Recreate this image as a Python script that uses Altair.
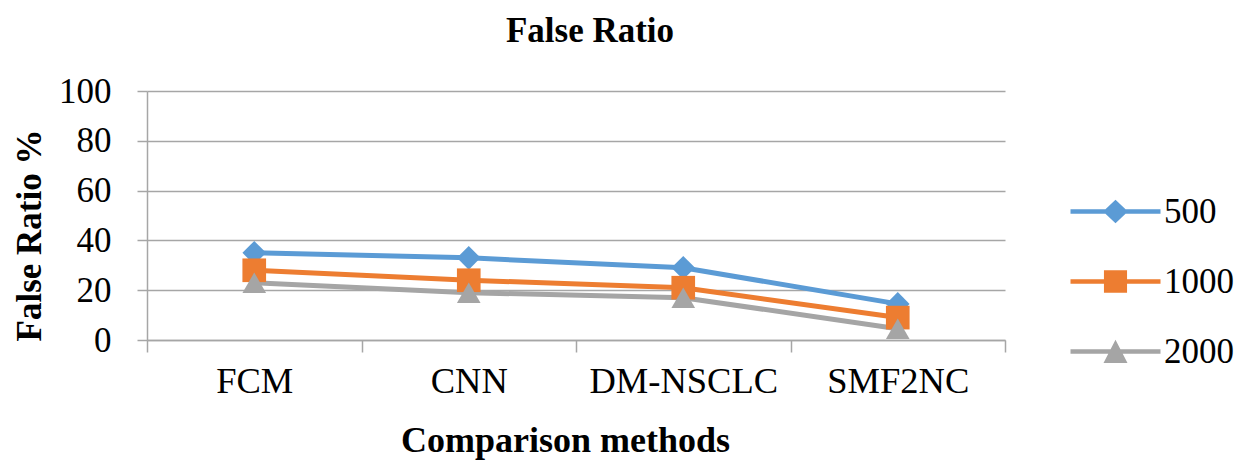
import altair as alt
import pandas as pd

methods = ["FCM", "CNN", "DM-NSCLC", "SMF2NC"]
series_names = ["500", "1000", "2000"]
vals_500 = [35, 33, 29, 14.5]
vals_1000 = [28, 24, 21, 9]
vals_2000 = [23, 19, 17, 4.5]
colors = ["#5B9BD5", "#ED7D31", "#A5A5A5"]
marker_shapes = ["diamond", "square", "triangle-up"]
y_ticks = [0, 20, 40, 60, 80, 100]

legend_paths = [
    "M-3,-0.15L3,-0.15L3,0.15L-3,0.15Z M-0.83,0L0,-0.78L0.83,0L0,0.78Z",
    "M-3,-0.15L3,-0.15L3,0.15L-3,0.15Z M-0.77,-0.75L0.77,-0.75L0.77,0.75L-0.77,0.75Z",
    "M-3,-0.15L3,-0.15L3,0.15L-3,0.15Z M0,-0.78L0.8,0.76L-0.8,0.76Z",
]

rows = []
for s, vals in zip(series_names, [vals_500, vals_1000, vals_2000]):
    for m, v in zip(methods, vals):
        rows.append({"method": m, "series": s, "value": v})
df = pd.DataFrame(rows)

FONT = "Liberation Serif"
GRID = "#A6A6A6"

x_enc = alt.X(
    "method:N",
    sort=methods,
    scale=alt.Scale(type="band", paddingInner=0, paddingOuter=0),
    axis=alt.Axis(
        title="Comparison methods",
        tickBand="extent",
        labelAngle=0,
        labelLimit=400,
        grid=False,
        domainColor=GRID,
        domainWidth=1.5,
        tickColor=GRID,
        tickWidth=1.5,
        tickSize=12,
        labelFont=FONT,
        labelFontSize=36.5,
        labelColor="black",
        labelPadding=11,
        titleFont=FONT,
        titleFontSize=36,
        titleFontWeight="bold",
        titleColor="black",
        titleX=418,
        titleY=100,
        titleBaseline="middle",
        titleAlign="center",
    ),
)

y_enc = alt.Y(
    "value:Q",
    scale=alt.Scale(domain=[0, 100]),
    axis=alt.Axis(
        values=y_ticks,
        title="False Ratio %",
        grid=True,
        gridColor=GRID,
        gridWidth=1.5,
        domainColor=GRID,
        domainWidth=1.5,
        tickColor=GRID,
        tickWidth=1.5,
        tickSize=10,
        labelFont=FONT,
        labelFontSize=35,
        labelColor="black",
        labelPadding=26,
        titleFont=FONT,
        titleFontSize=35,
        titleFontWeight="bold",
        titleColor="black",
        titleX=-118,
        titleY=144,
        titleBaseline="middle",
        titleAlign="center",
        titleAngle=270,
    ),
)

layers = []
for s, c in zip(series_names, colors):
    layers.append(
        alt.Chart(df)
        .transform_filter(alt.datum.series == s)
        .mark_line(strokeWidth=5, color=c)
        .encode(x=x_enc, y=y_enc)
    )
for s, c, shp in zip(series_names, colors, marker_shapes):
    layers.append(
        alt.Chart(df)
        .transform_filter(alt.datum.series == s)
        .mark_point(shape=shp, filled=True, size=560, opacity=1, strokeWidth=0, color=c)
        .encode(x=x_enc, y=y_enc)
    )

leg = alt.Legend(
    title=None,
    orient="none",
    legendX=951,
    legendY=103,
    symbolSize=900,
    symbolOpacity=1,
    symbolStrokeWidth=0,
    labelFont=FONT,
    labelFontSize=35,
    labelColor="black",
    labelOffset=31,
    labelBaseline="middle",
    rowPadding=34,
    padding=0,
)

legend_layer = (
    alt.Chart(df)
    .transform_filter("datum.value < 0")
    .mark_point(filled=True, size=900)
    .encode(
        x=x_enc,
        y=y_enc,
        color=alt.Color("series:N", scale=alt.Scale(domain=series_names, range=colors), legend=leg),
        shape=alt.Shape("series:N", scale=alt.Scale(domain=series_names, range=legend_paths), legend=leg),
    )
)
layers.append(legend_layer)

chart = (
    alt.layer(*layers)
    .properties(
        width=858,
        height=249,
        padding={"left": 139, "top": 83, "right": 230, "bottom": 124},
        autosize=alt.AutoSizeParams(type="none"),
        title=alt.TitleParams(
            "False Ratio",
            font=FONT,
            fontSize=35,
            fontWeight="bold",
            color="black",
            anchor="middle",
            dx=14,
            offset=25,
        ),
    )
    .configure_view(stroke=None)
)

chart.save("out.html", embed_options={"renderer": "svg", "actions": False})
